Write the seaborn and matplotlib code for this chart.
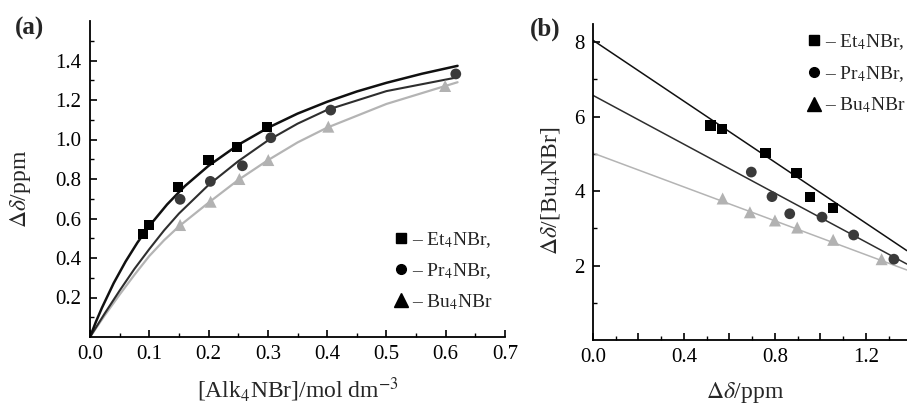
import numpy as np
import pandas as pd
import matplotlib
matplotlib.use("Agg")
import matplotlib.pyplot as plt
import seaborn as sns
from matplotlib.lines import Line2D

# ---------------- data ----------------
series_names = ["Et4NBr", "Pr4NBr", "Bu4NBr"]
legend_labels = ["\u2013 Et$_4$NBr,", "\u2013 Pr$_4$NBr,", "\u2013 Bu$_4$NBr"]

# panel (a): chemical shift vs concentration
et_conc = [0.089, 0.100, 0.148, 0.200, 0.248, 0.298]
et_shift = [0.52, 0.567, 0.76, 0.896, 0.962, 1.062]
pr_conc = [0.152, 0.203, 0.257, 0.305, 0.406, 0.617]
pr_shift = [0.697, 0.788, 0.867, 1.009, 1.149, 1.332]
bu_conc = [0.152, 0.2035, 0.252, 0.3007, 0.402, 0.599]
bu_shift = [0.567, 0.685, 0.80, 0.896, 1.065, 1.271]

# panel (a): fitted curves
et_curve_x = [0, 0.01, 0.02, 0.04, 0.06, 0.08, 0.10, 0.13, 0.16, 0.20, 0.25, 0.30, 0.35, 0.40, 0.45, 0.50, 0.56, 0.62]
et_curve_y = [0, 0.077, 0.147, 0.273, 0.382, 0.478, 0.562, 0.671, 0.764, 0.867, 0.973, 1.059, 1.131, 1.191, 1.243, 1.287, 1.333, 1.373]
pr_curve_x = [0, 0.025, 0.05, 0.075, 0.10, 0.125, 0.15, 0.20, 0.25, 0.30, 0.35, 0.40, 0.50, 0.62]
pr_curve_y = [0, 0.12, 0.235, 0.345, 0.445, 0.54, 0.625, 0.77, 0.89, 0.995, 1.08, 1.15, 1.245, 1.315]
bu_curve_x = [0, 0.025, 0.05, 0.075, 0.10, 0.125, 0.15, 0.20, 0.25, 0.30, 0.35, 0.40, 0.50, 0.62]
bu_curve_y = [0, 0.11, 0.215, 0.315, 0.41, 0.49, 0.56, 0.68, 0.795, 0.895, 0.985, 1.06, 1.18, 1.29]

# panel (b): shift / [Bu4NBr] vs shift
et_b_x = [0.517, 0.568, 0.759, 0.895, 0.954, 1.054]
et_b_y = [5.76, 5.66, 5.03, 4.48, 3.84, 3.54]
pr_b_x = [0.696, 0.787, 0.865, 1.007, 1.146, 1.323]
pr_b_y = [4.51, 3.85, 3.39, 3.30, 2.82, 2.17]
bu_b_x = [0.570, 0.690, 0.800, 0.898, 1.056, 1.269]
bu_b_y = [3.80, 3.43, 3.21, 3.02, 2.69, 2.17]

# panel (b): fitted straight lines (end points)
line_x = [0.0, 1.38]
et_line_y = [8.05, 2.40]
pr_line_y = [6.57, 2.04]
bu_line_y = [5.02, 1.88]

# ticks
a_xticks = [0.0, 0.1, 0.2, 0.3, 0.4, 0.5, 0.6, 0.7]
a_xtick_labels = ["0.0", "0.1", "0.2", "0.3", "0.4", "0.5", "0.6", "0.7"]
a_yticks = [0.2, 0.4, 0.6, 0.8, 1.0, 1.2, 1.4]
a_ytick_labels = ["0.2", "0.4", "0.6", "0.8", "1.0", "1.2", "1.4"]
b_xticks = [0.0, 0.2, 0.4, 0.6, 0.8, 1.0, 1.2]
b_xtick_labels = ["0.0", "", "0.4", "", "0.8", "", "1.2"]
b_yticks = [2, 4, 6, 8]
b_ytick_labels = ["2", "4", "6", "8"]

# ---------------- style ----------------
sns.set_theme(style="white")
plt.rcParams["font.family"] = "serif"
plt.rcParams["font.serif"] = ["Liberation Serif", "DejaVu Serif"]
plt.rcParams["mathtext.fontset"] = "stix"
plt.rcParams["axes.linewidth"] = 1.3

colors = {"Et4NBr": "#000000", "Pr4NBr": "#3a3a3a", "Bu4NBr": "#b2b2b2"}
line_colors = {"Et4NBr": "#101010", "Pr4NBr": "#2e2e2e", "Bu4NBr": "#b4b4b4"}
markers = {"Et4NBr": "s", "Pr4NBr": "o", "Bu4NBr": "^"}
sizes = {"Et4NBr": 55, "Pr4NBr": 60, "Bu4NBr": 75}

W, H = 907, 404
fig = plt.figure(figsize=(W / 100, H / 100), dpi=100)

ax_a = fig.add_axes([90 / W, (H - 337) / H, 415 / W, 316 / H])
ax_b = fig.add_axes([593 / W, (H - 340) / H, 315 / W, 316.5 / H])

# ---------------- panel (a) ----------------
pts_a = pd.concat([
    pd.DataFrame({"x": et_conc, "y": et_shift, "s": "Et4NBr"}),
    pd.DataFrame({"x": pr_conc, "y": pr_shift, "s": "Pr4NBr"}),
    pd.DataFrame({"x": bu_conc, "y": bu_shift, "s": "Bu4NBr"}),
])
curves_a = pd.concat([
    pd.DataFrame({"x": et_curve_x, "y": et_curve_y, "s": "Et4NBr"}),
    pd.DataFrame({"x": pr_curve_x, "y": pr_curve_y, "s": "Pr4NBr"}),
    pd.DataFrame({"x": bu_curve_x, "y": bu_curve_y, "s": "Bu4NBr"}),
])
for name, lw in zip(series_names[::-1], [1.6, 1.5, 1.8]):
    d = curves_a[curves_a.s == name]
    sns.lineplot(data=d, x="x", y="y", ax=ax_a, color=line_colors[name], lw=lw,
                 sort=False, estimator=None, legend=False)
for name in series_names[::-1]:
    d = pts_a[pts_a.s == name]
    sns.scatterplot(data=d, x="x", y="y", ax=ax_a, marker=markers[name], s=sizes[name],
                    color=colors[name], edgecolor="none", legend=False, zorder=3)

ax_a.set_xlim(0, 0.7)
ax_a.set_ylim(0, 1.6)
ax_a.set_xticks(a_xticks)
ax_a.set_xticklabels(a_xtick_labels)
ax_a.set_yticks(a_yticks)
ax_a.set_yticklabels(a_ytick_labels)
ax_a.set_xticks(np.arange(0.05, 0.7, 0.1), minor=True)
ax_a.set_yticks(np.arange(0.1, 1.6, 0.2), minor=True)
ax_a.set_xlabel("[Alk$_4$NBr]/mol dm$^{-3}$", fontsize=17)
ax_a.set_ylabel(r"$\Delta\delta$/ppm", fontsize=17)
ax_a.xaxis.set_label_coords(0.5, -0.12)
ax_a.yaxis.set_label_coords(-0.138, 0.47)

# ---------------- panel (b) ----------------
pts_b = pd.concat([
    pd.DataFrame({"x": et_b_x, "y": et_b_y, "s": "Et4NBr"}),
    pd.DataFrame({"x": pr_b_x, "y": pr_b_y, "s": "Pr4NBr"}),
    pd.DataFrame({"x": bu_b_x, "y": bu_b_y, "s": "Bu4NBr"}),
])
lines_b = pd.concat([
    pd.DataFrame({"x": line_x, "y": et_line_y, "s": "Et4NBr"}),
    pd.DataFrame({"x": line_x, "y": pr_line_y, "s": "Pr4NBr"}),
    pd.DataFrame({"x": line_x, "y": bu_line_y, "s": "Bu4NBr"}),
])
for name in series_names[::-1]:
    d = lines_b[lines_b.s == name]
    sns.lineplot(data=d, x="x", y="y", ax=ax_b, color=line_colors[name], lw=1.1,
                 estimator=None, legend=False)
for name in series_names[::-1]:
    d = pts_b[pts_b.s == name]
    sns.scatterplot(data=d, x="x", y="y", ax=ax_b, marker=markers[name], s=sizes[name],
                    color=colors[name], edgecolor="none", legend=False, zorder=3)

ax_b.set_xlim(0, 1.385)
ax_b.set_ylim(0, 8.5)
ax_b.set_xticks(b_xticks)
ax_b.set_xticklabels(b_xtick_labels)
ax_b.set_yticks(b_yticks)
ax_b.set_yticklabels(b_ytick_labels)
ax_b.set_xticks(np.arange(0.1, 1.4, 0.2), minor=True)
ax_b.set_yticks([1, 3, 5, 7], minor=True)
ax_b.set_xlabel(r"$\Delta\delta$/ppm", fontsize=17)
ax_b.set_ylabel(r"$\Delta\delta$/[Bu$_4$NBr]", fontsize=17)
ax_b.xaxis.set_label_coords(0.482, -0.125)
ax_b.yaxis.set_label_coords(-0.1, 0.47)

for ax in (ax_a, ax_b):
    sns.despine(ax=ax)
    ax.tick_params(which="major", direction="in", length=5, width=1.2, labelsize=15,
                   color="black", labelcolor="black", pad=6)
    ax.tick_params(which="minor", direction="in", length=3, width=1.0, color="black")
    ax.tick_params(axis="x", which="both", bottom=True, top=False)
    ax.tick_params(axis="y", which="both", left=True, right=False)
    for sp in ("left", "bottom"):
        ax.spines[sp].set_color("black")

# ---------------- legends ----------------
handles = [Line2D([], [], marker=markers[n], color="black", ls="none",
                  markersize={"Et4NBr": 7, "Pr4NBr": 7, "Bu4NBr": 10}[n]) for n in series_names]
leg_a = ax_a.legend(handles, legend_labels, loc="upper left",
                    bbox_to_anchor=(394 / W, 1 - 230 / H), bbox_transform=fig.transFigure,
                    frameon=False, fontsize=14, handlelength=0.7, handletextpad=0.25,
                    labelspacing=0.58, borderpad=0, borderaxespad=0)
leg_b = ax_b.legend(handles, legend_labels, loc="upper left",
                    bbox_to_anchor=(807 / W, 1 - 32 / H), bbox_transform=fig.transFigure,
                    frameon=False, fontsize=14, handlelength=0.7, handletextpad=0.25,
                    labelspacing=0.62, borderpad=0, borderaxespad=0)

# panel labels
fig.text(29 / W, 1 - 28 / H, "(a)", fontsize=18, fontweight="bold", ha="center", va="center")
fig.text(545 / W, 1 - 29 / H, "(b)", fontsize=18, fontweight="bold", ha="center", va="center")

fig.savefig("out.png", dpi=100)
